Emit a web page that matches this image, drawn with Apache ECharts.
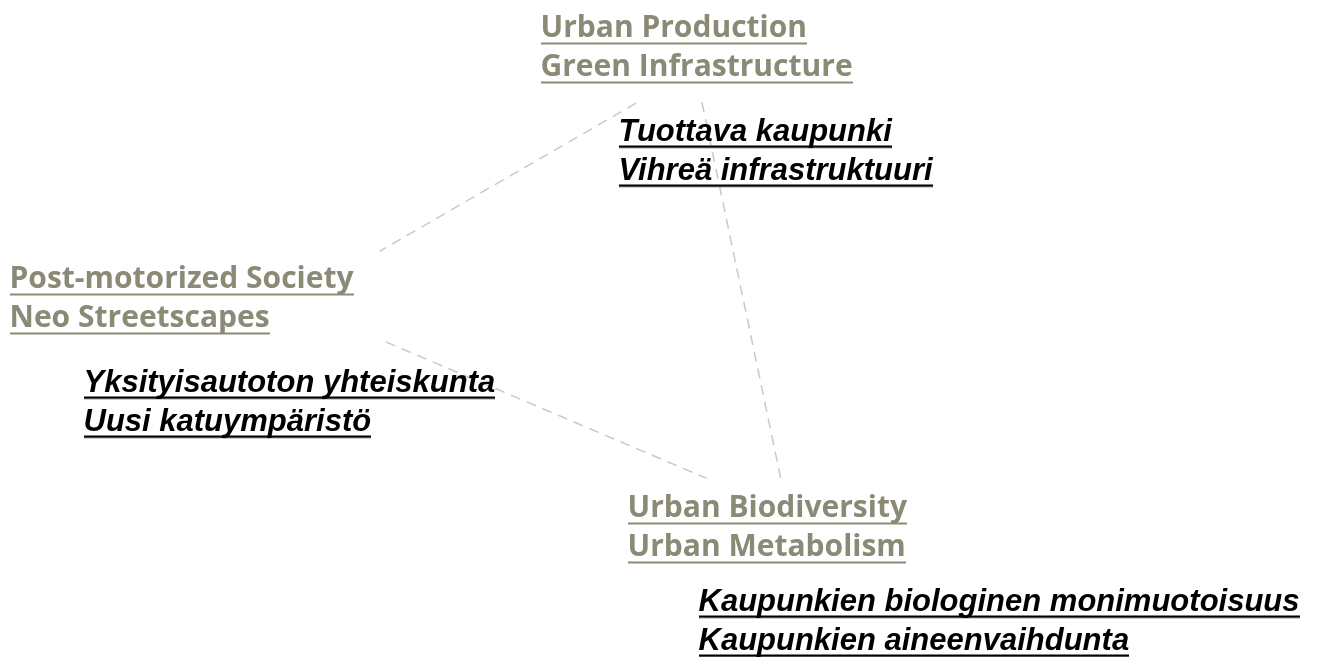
<!DOCTYPE html>
<html>
<head>
<meta charset="utf-8">
<script src="https://cdn.jsdelivr.net/npm/echarts@6/dist/echarts.min.js"></script>
<style>
  html, body { margin: 0; padding: 0; background: #fff; }
  #main { width: 1322px; height: 657px; }
</style>
</head>
<body>
<div id="main"></div>
<script>
// theme nodes (position on the board) and the links between them
const nodeNames = ['Urban Production', 'Post-motorized Society', 'Urban Biodiversity'];
const nodeX = [695, 292, 788];
const nodeY = [69, 302, 513];
const links = [[0, 1], [0, 2], [1, 2]];

const enLabels = [
  ['Urban Production', 'Green Infrastructure'],
  ['Post-motorized Society', 'Neo Streetscapes'],
  ['Urban Biodiversity', 'Urban Metabolism'],
];
const fiLabels = [
  ['Tuottava kaupunki', 'Vihreä infrastruktuuri'],
  ['Yksityisautoton yhteiskunta', 'Uusi katuympäristö'],
  ['Kaupunkien biologinen monimuotoisuus', 'Kaupunkien aineenvaihdunta'],
];

// label placement relative to each node (layout only)
const enPos = [[-160, -70], [-288, -52], [-166, -34]];
const fiPos = [[-76, 44], [-208, 62], [-89, 70]];

const EN_COLOR = '#8b8a76';
const EDGE_COLOR = '#b6d5b9';
const EN_LH = 39;
const FI_LH = 39;

// small canvas stretched behind each text line to fake an underline
function underline(h, rows) {
  const c = document.createElement('canvas');
  c.width = 4;
  c.height = h;
  const g = c.getContext('2d');
  rows.forEach(([y, t, col]) => {
    g.fillStyle = col;
    g.fillRect(0, y, 4, t);
  });
  return c;
}
const enLine = underline(EN_LH, [[34, 2, EN_COLOR]]);
const fiLine = underline(FI_LH, [[33, 2, '#000'], [35, 1, '#999']]);

const chart = echarts.init(document.getElementById('main'));

const graphData = nodeNames.map((name, i) => ({
  name,
  value: [nodeX[i], nodeY[i]],
  label: { position: enPos[i] },
}));
const fiData = nodeNames.map((name, i) => ({
  name,
  value: [nodeX[i], nodeY[i]],
  label: { position: fiPos[i] },
}));

chart.setOption({
  animation: false,
  grid: { left: 0, right: 0, top: 0, bottom: 0 },
  xAxis: { type: 'value', min: 0, max: 1322, show: false },
  yAxis: { type: 'value', min: 0, max: 657, inverse: true, show: false },
  series: [
    {
      type: 'graph',
      coordinateSystem: 'cartesian2d',
      symbolSize: 1,
      itemStyle: { color: 'rgba(0,0,0,0)' },
      emphasis: { disabled: true },
      data: graphData,
      links: links.map(([s, t]) => ({ source: nodeNames[s], target: nodeNames[t] })),
      lineStyle: { color: EDGE_COLOR, width: 1.5, type: [10, 7], opacity: 1, curveness: 0 },
      label: {
        show: true,
        align: 'left',
        verticalAlign: 'top',
        backgroundColor: '#fff',
        padding: [10, 26, 14, 6],
        formatter: (p) => enLabels[p.dataIndex].map((s) => '{en|' + s + '}').join('\n'),
        rich: {
          en: {
            fontFamily: 'Open Sans',
            fontWeight: 700,
            fontSize: 30,
            color: EN_COLOR,
            lineHeight: EN_LH,
            height: EN_LH,
            backgroundColor: { image: enLine },
          },
        },
      },
    },
    {
      type: 'scatter',
      symbolSize: 1,
      itemStyle: { color: 'rgba(0,0,0,0)' },
      emphasis: { disabled: true },
      data: fiData,
      label: {
        show: true,
        align: 'left',
        verticalAlign: 'top',
        color: '#000',
        opacity: 1,
        formatter: (p) => fiLabels[p.dataIndex].map((s) => '{fi|' + s + '}').join('\n'),
        rich: {
          fi: {
            fontFamily: 'Liberation Sans',
            fontWeight: 700,
            fontStyle: 'italic',
            fontSize: 31,
            color: '#000',
            textShadowColor: 'rgba(0,0,0,0.35)',
            textShadowOffsetX: 1,
            textShadowOffsetY: 1,
            textShadowBlur: 0,
            lineHeight: FI_LH,
            height: FI_LH,
            backgroundColor: { image: fiLine },
          },
        },
      },
    },
  ],
});
</script>
</body>
</html>
